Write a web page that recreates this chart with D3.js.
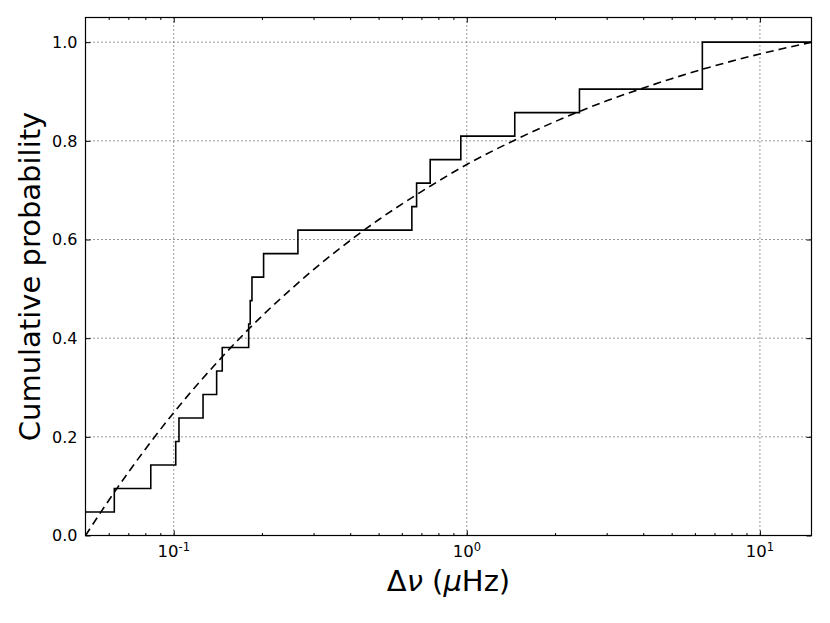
<!DOCTYPE html>
<html>
<head>
<meta charset="utf-8">
<script src="https://cdn.jsdelivr.net/npm/d3@7"></script>
<style>
  html, body { margin: 0; padding: 0; background: #fff; }
  svg { display: block; }
  text { font-family: "DejaVu Sans", sans-serif; fill: #000; }
</style>
</head>
<body>
<svg id="chart" width="830" height="623"></svg>
<script>
// ---- data ----
// sorted Δν samples for the empirical cumulative distribution (N = 21)
const dnuSamples = [0.05, 0.0627, 0.0835, 0.1016, 0.1042, 0.1259, 0.1401, 0.1464,
  0.1802, 0.1824, 0.1849, 0.2026, 0.2653, 0.6494, 0.674, 0.7499, 0.9539,
  1.4575, 2.423, 6.363, 6.363];
const modelX = [0.05, 0.06, 0.07, 0.08, 0.1, 0.12, 0.15, 0.2, 0.25, 0.3, 0.4, 0.5,
  0.7, 1, 1.5, 2, 3, 4, 5, 7, 10, 12, 15];
const modelY = [0, 0.071, 0.128, 0.175, 0.249, 0.305, 0.369, 0.445, 0.498, 0.539,
  0.598, 0.640, 0.697, 0.752, 0.805, 0.839, 0.881, 0.907, 0.926, 0.952, 0.976, 0.987, 1.0];
const xMajorTicks = [0.1, 1, 10];
const xTickExp = ["-1", "0", "1"];
const yTicks = [0.0, 0.2, 0.4, 0.6, 0.8, 1.0];
const xDomain = [0.05, 15];
const yDomain = [0, 1.05];

// ---- layout ----
const svg = d3.select("#chart");
const L = 85.5, R = 811.5, T = 17.5, B = 535.5;

const x = d3.scaleLog().domain(xDomain).range([L, R]);
const y = d3.scaleLinear().domain(yDomain).range([B, T]);

// minor ticks
const xMinor = [];
for (let e = -2; e <= 1; e++) {
  for (let m = 2; m <= 9; m++) {
    const v = m * Math.pow(10, e);
    if (v > xDomain[0] && v < xDomain[1]) xMinor.push(v);
  }
}

svg.append("defs").append("clipPath").attr("id", "clip")
  .append("rect").attr("x", L).attr("y", T).attr("width", R - L).attr("height", B - T);

// grid
const grid = svg.append("g").attr("stroke", "#000").attr("stroke-width", 0.8)
  .attr("stroke-dasharray", "1,3").attr("fill", "none");
xMajorTicks.forEach(v => {
  grid.append("line").attr("x1", x(v)).attr("x2", x(v)).attr("y1", T).attr("y2", B);
});
yTicks.filter(v => v > 0).forEach(v => {
  grid.append("line").attr("x1", L).attr("x2", R).attr("y1", y(v)).attr("y2", y(v));
});

// axes ticks (inside, on all four sides)
function styleAxis(g) {
  g.select(".domain").remove();
  g.selectAll("line").attr("stroke", "#000").attr("stroke-width", 1);
  g.selectAll("text").remove();
}
svg.append("g").attr("transform", `translate(0,${B})`)
  .call(d3.axisBottom(x).tickValues(xMajorTicks).tickSize(-5).tickFormat(""))
  .call(styleAxis);
svg.append("g").attr("transform", `translate(0,${B})`)
  .call(d3.axisBottom(x).tickValues(xMinor).tickSize(-2.5).tickFormat(""))
  .call(styleAxis);
svg.append("g").attr("transform", `translate(0,${T})`)
  .call(d3.axisTop(x).tickValues(xMajorTicks).tickSize(-5).tickFormat(""))
  .call(styleAxis);
svg.append("g").attr("transform", `translate(0,${T})`)
  .call(d3.axisTop(x).tickValues(xMinor).tickSize(-2.5).tickFormat(""))
  .call(styleAxis);
svg.append("g").attr("transform", `translate(${L},0)`)
  .call(d3.axisLeft(y).tickValues(yTicks).tickSize(-5).tickFormat(""))
  .call(styleAxis);
svg.append("g").attr("transform", `translate(${R},0)`)
  .call(d3.axisRight(y).tickValues(yTicks).tickSize(-5).tickFormat(""))
  .call(styleAxis);

// tick labels
svg.append("g").selectAll("text").data(yTicks).join("text")
  .attr("x", L - 8).attr("y", d => y(d)).attr("dy", "0.36em")
  .attr("text-anchor", "end").attr("font-size", 16)
  .text(d => d.toFixed(1));

const xl = svg.append("g").selectAll("text").data(xMajorTicks).join("text")
  .attr("x", d => x(d)).attr("y", 557).attr("text-anchor", "middle")
  .attr("font-size", 16.5);
xl.append("tspan").text("10");
xl.append("tspan").attr("font-size", 11.5).attr("dy", -6.5).text((d, i) => xTickExp[i]);

// data curves
const plot = svg.append("g").attr("clip-path", "url(#clip)");
const ecdfPts = dnuSamples.map((v, i) => [v, (i + 1) / dnuSamples.length]);
ecdfPts.push([xDomain[1] * 1.2, 1]);
plot.append("path")
  .attr("d", d3.line().x(d => x(d[0])).y(d => y(d[1])).curve(d3.curveStepAfter)(ecdfPts))
  .attr("fill", "none").attr("stroke", "#000").attr("stroke-width", 1.6);

const modelPts = modelX.map((v, i) => [v, modelY[i]]);
plot.append("path")
  .attr("d", d3.line().x(d => x(d[0])).y(d => y(d[1])).curve(d3.curveMonotoneX)(modelPts))
  .attr("fill", "none").attr("stroke", "#000").attr("stroke-width", 1.6)
  .attr("stroke-dasharray", "8,5");

// frame
svg.append("rect").attr("x", L).attr("y", T).attr("width", R - L).attr("height", B - T)
  .attr("fill", "none").attr("stroke", "#000").attr("stroke-width", 1.2);

// axis labels
const xlab = svg.append("text").attr("x", (L + R) / 2).attr("y", 591)
  .attr("text-anchor", "middle").attr("font-size", 29);
xlab.append("tspan").text("Δ");
xlab.append("tspan").attr("font-style", "italic").text("ν");
xlab.append("tspan").text(" (");
xlab.append("tspan").attr("font-style", "italic").text("μ");
xlab.append("tspan").text("Hz)");

svg.append("text").attr("transform", `translate(40,${(T + B) / 2}) rotate(-90)`)
  .attr("text-anchor", "middle").attr("font-size", 29)
  .text("Cumulative probability");
</script>
</body>
</html>
